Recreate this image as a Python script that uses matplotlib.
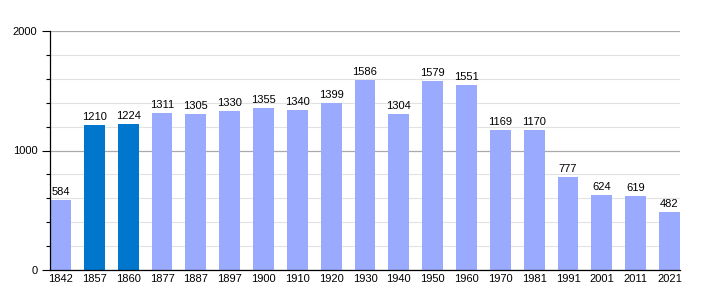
import matplotlib
matplotlib.use('Agg')
import matplotlib.pyplot as plt
from matplotlib.ticker import MultipleLocator

plt.rcParams['font.family'] = ['Liberation Sans', 'DejaVu Sans']

years = ['1842', '1857', '1860', '1877', '1887', '1897', '1900', '1910', '1920', '1930',
         '1940', '1950', '1960', '1970', '1981', '1991', '2001', '2011', '2021']
population = [584, 1210, 1224, 1311, 1305, 1330, 1355, 1340, 1399, 1586,
              1304, 1579, 1551, 1169, 1170, 777, 624, 619, 482]
highlight = ['1857', '1860']

light = '#99aaff'
dark = '#0077cc'

fig = plt.figure(figsize=(7.1, 3.0), dpi=100)
ax = fig.add_axes([50 / 710, 30 / 300, 630 / 710, 239 / 300])

x = list(range(len(years)))
colors = [dark if y in highlight else light for y in years]
ax.bar(x, population, width=0.62, color=colors, zorder=2)

for xi, v in zip(x, population):
    ax.text(xi, v + 25, str(v), ha='center', va='bottom', fontsize=8, color='black')

ax.set_xlim(-0.31, len(years) - 1 + 0.31)
ax.set_ylim(0, 2000)
ax.set_xticks(x)
ax.set_xticklabels(years, fontsize=8)
ax.tick_params(axis='x', length=0, pad=3)

ax.yaxis.set_major_locator(MultipleLocator(1000))
ax.yaxis.set_minor_locator(MultipleLocator(200))
ax.tick_params(axis='y', which='major', length=6, width=0.8, labelsize=8, pad=3)
ax.tick_params(axis='y', which='minor', length=3, width=0.8)

ax.grid(axis='y', which='major', color='#aaaaaa', linewidth=0.9, zorder=0)
ax.grid(axis='y', which='minor', color='#e2e2e2', linewidth=0.8, zorder=0)
ax.set_axisbelow(True)

for s in ['top', 'right']:
    ax.spines[s].set_visible(False)
ax.spines['left'].set_color('black')
ax.spines['bottom'].set_color('black')
ax.spines['left'].set_linewidth(0.9)
ax.spines['bottom'].set_linewidth(0.9)

fig.savefig('out.png', dpi=100)
